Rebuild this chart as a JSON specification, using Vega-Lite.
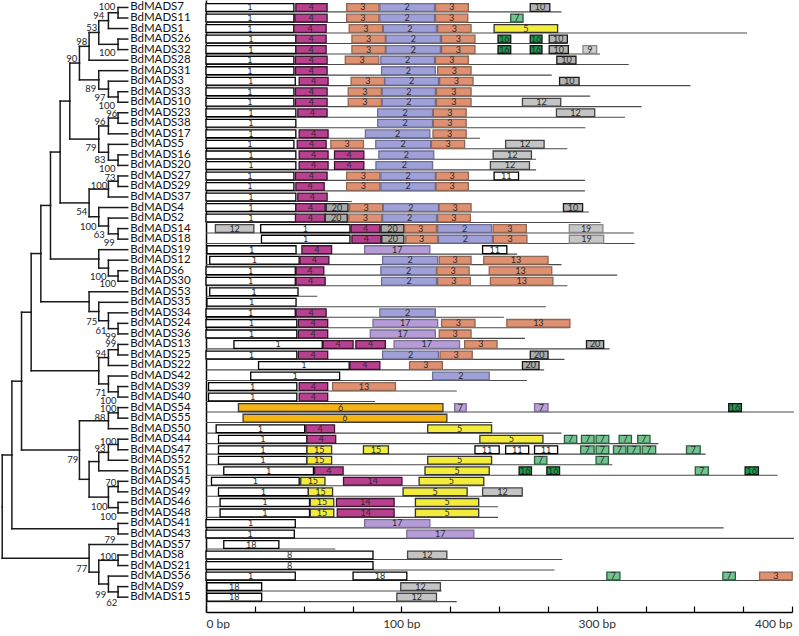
{
"$schema":"https://vega.github.io/schema/vega-lite/v6.json",
"padding":0,"spacing":0,"bounds":"flush","background":"white",
"config":{"view":{"stroke":null},"font":"Lato"},
"datasets":{
"edges":[
{"n":"BdMADS7","h":0,"r":0,"ph":1,"pr":0.5},{"n":"BdMADS11","h":0,"r":1,"ph":1,"pr":0.5},{"n":"BdMADS1","h":0,"r":2,"ph":2,"pr":1.25},{"n":"BdMADS26","h":0,"r":3,"ph":1,"pr":3.5},{"n":"BdMADS32","h":0,"r":4,"ph":1,"pr":3.5},
{"n":"BdMADS28","h":0,"r":5,"ph":4,"pr":3.69},{"n":"BdMADS31","h":0,"r":6,"ph":3,"pr":6.875},{"n":"BdMADS3","h":0,"r":7,"ph":2,"pr":7.75},{"n":"BdMADS33","h":0,"r":8,"ph":1,"pr":8.5},{"n":"BdMADS10","h":0,"r":9,"ph":1,"pr":8.5},
{"n":"BdMADS23","h":0,"r":10,"ph":1,"pr":10.5},{"n":"BdMADS38","h":0,"r":11,"ph":1,"pr":10.5},{"n":"BdMADS17","h":0,"r":12,"ph":2,"pr":11.25},{"n":"BdMADS5","h":0,"r":13,"ph":2,"pr":13.75},{"n":"BdMADS16","h":0,"r":14,"ph":1,"pr":14.5},
{"n":"BdMADS20","h":0,"r":15,"ph":1,"pr":14.5},{"n":"BdMADS27","h":0,"r":16,"ph":1,"pr":16.5},{"n":"BdMADS29","h":0,"r":17,"ph":1,"pr":16.5},{"n":"BdMADS37","h":0,"r":18,"ph":2,"pr":17.25},{"n":"BdMADS4","h":0,"r":19,"ph":3,"pr":19.875},
{"n":"BdMADS2","h":0,"r":20,"ph":2,"pr":20.75},{"n":"BdMADS14","h":0,"r":21,"ph":1,"pr":21.5},{"n":"BdMADS18","h":0,"r":22,"ph":1,"pr":21.5},{"n":"BdMADS19","h":0,"r":23,"ph":3,"pr":23.875},{"n":"BdMADS12","h":0,"r":24,"ph":2,"pr":24.75},
{"n":"BdMADS6","h":0,"r":25,"ph":1,"pr":25.5},{"n":"BdMADS30","h":0,"r":26,"ph":1,"pr":25.5},{"n":"BdMADS53","h":0,"r":27,"ph":4,"pr":27.94},{"n":"BdMADS35","h":0,"r":28,"ph":3,"pr":28.875},{"n":"BdMADS34","h":0,"r":29,"ph":2,"pr":29.75},
{"n":"BdMADS24","h":0,"r":30,"ph":1,"pr":30.5},{"n":"BdMADS36","h":0,"r":31,"ph":1,"pr":30.5},{"n":"BdMADS13","h":0,"r":32,"ph":1,"pr":32.5},{"n":"BdMADS25","h":0,"r":33,"ph":1,"pr":32.5},{"n":"BdMADS22","h":0,"r":34,"ph":2,"pr":33.25},
{"n":"BdMADS42","h":0,"r":35,"ph":2,"pr":35.75},{"n":"BdMADS39","h":0,"r":36,"ph":1,"pr":36.5},{"n":"BdMADS40","h":0,"r":37,"ph":1,"pr":36.5},{"n":"BdMADS54","h":0,"r":38,"ph":1,"pr":38.5},{"n":"BdMADS55","h":0,"r":39,"ph":1,"pr":38.5},
{"n":"BdMADS50","h":0,"r":40,"ph":2,"pr":39.25},{"n":"BdMADS44","h":0,"r":41,"ph":1,"pr":41.5},{"n":"BdMADS47","h":0,"r":42,"ph":1,"pr":41.5},{"n":"BdMADS52","h":0,"r":43,"ph":2,"pr":42.25},{"n":"BdMADS51","h":0,"r":44,"ph":3,"pr":43.125},
{"n":"BdMADS45","h":0,"r":45,"ph":1,"pr":45.5},{"n":"BdMADS49","h":0,"r":46,"ph":1,"pr":45.5},{"n":"BdMADS46","h":0,"r":47,"ph":1,"pr":47.5},{"n":"BdMADS48","h":0,"r":48,"ph":1,"pr":47.5},{"n":"BdMADS41","h":0,"r":49,"ph":1,"pr":49.5},
{"n":"BdMADS43","h":0,"r":50,"ph":1,"pr":49.5},{"n":"BdMADS57","h":0,"r":51,"ph":4,"pr":52.31},{"n":"BdMADS8","h":0,"r":52,"ph":1,"pr":52.5},{"n":"BdMADS21","h":0,"r":53,"ph":1,"pr":52.5},{"n":"BdMADS56","h":0,"r":54,"ph":2,"pr":54.75},
{"n":"BdMADS9","h":0,"r":55,"ph":1,"pr":55.5},{"n":"BdMADS15","h":0,"r":56,"ph":1,"pr":55.5},
{"h":1,"r":0.5,"ph":2,"pr":1.25},{"h":2,"r":1.25,"ph":3,"pr":2.375},{"h":1,"r":3.5,"ph":3,"pr":2.375},{"h":3,"r":2.375,"ph":4,"pr":3.69},{"h":4,"r":3.69,"ph":5,"pr":5.28},
{"h":1,"r":8.5,"ph":2,"pr":7.75},{"h":2,"r":7.75,"ph":3,"pr":6.875},{"h":3,"r":6.875,"ph":5,"pr":5.28},{"h":5,"r":5.28,"ph":6,"pr":8.89},
{"h":1,"r":10.5,"ph":2,"pr":11.25},{"h":2,"r":11.25,"ph":3,"pr":12.5},{"h":1,"r":14.5,"ph":2,"pr":13.75},{"h":2,"r":13.75,"ph":3,"pr":12.5},{"h":3,"r":12.5,"ph":6,"pr":8.89},{"h":6,"r":8.89,"ph":7,"pr":13.73},
{"h":1,"r":16.5,"ph":2,"pr":17.25},{"h":2,"r":17.25,"ph":4,"pr":18.56},{"h":1,"r":21.5,"ph":2,"pr":20.75},{"h":2,"r":20.75,"ph":3,"pr":19.875},{"h":3,"r":19.875,"ph":4,"pr":18.56},{"h":4,"r":18.56,"ph":7,"pr":13.73},{"h":7,"r":13.73,"ph":8,"pr":18.8},
{"h":1,"r":25.5,"ph":2,"pr":24.75},{"h":2,"r":24.75,"ph":3,"pr":23.875},{"h":3,"r":23.875,"ph":8,"pr":18.8},{"h":8,"r":18.8,"ph":9,"pr":23.37},
{"h":1,"r":30.5,"ph":2,"pr":29.75},{"h":2,"r":29.75,"ph":3,"pr":28.875},{"h":3,"r":28.875,"ph":4,"pr":27.94},{"h":4,"r":27.94,"ph":9,"pr":23.37},{"h":9,"r":23.37,"ph":10,"pr":28.94},
{"h":1,"r":32.5,"ph":2,"pr":33.25},{"h":2,"r":33.25,"ph":3,"pr":34.5},{"h":1,"r":36.5,"ph":2,"pr":35.75},{"h":2,"r":35.75,"ph":3,"pr":34.5},{"h":3,"r":34.5,"ph":10,"pr":28.94},{"h":10,"r":28.94,"ph":11,"pr":35.49},
{"h":1,"r":38.5,"ph":2,"pr":39.25},{"h":2,"r":39.25,"ph":5,"pr":42.03},{"h":1,"r":41.5,"ph":2,"pr":42.25},{"h":2,"r":42.25,"ph":3,"pr":43.125},{"h":3,"r":43.125,"ph":4,"pr":44.81},
{"h":1,"r":45.5,"ph":2,"pr":46.5},{"h":1,"r":47.5,"ph":2,"pr":46.5},{"h":2,"r":46.5,"ph":4,"pr":44.81},{"h":4,"r":44.81,"ph":5,"pr":42.03},{"h":5,"r":42.03,"ph":11,"pr":35.49},{"h":11,"r":35.49,"ph":12,"pr":42.5},
{"h":1,"r":49.5,"ph":12,"pr":42.5},{"h":12,"r":42.5,"ph":13,"pr":47.41},
{"h":1,"r":52.5,"ph":3,"pr":53.625},{"h":1,"r":55.5,"ph":2,"pr":54.75},{"h":2,"r":54.75,"ph":3,"pr":53.625},{"h":3,"r":53.625,"ph":4,"pr":52.31},{"h":4,"r":52.31,"ph":13,"pr":47.41}
],
"boot":[
{"h":2.15,"r":-0.08,"t":"100"},{"h":3.0,"r":0.81,"t":"94"},{"h":3.73,"r":1.98,"t":"53"},{"h":4.77,"r":3.25,"t":"98"},{"h":2.11,"r":4.35,"t":"100"},{"h":5.8,"r":4.92,"t":"90"},
{"h":3.83,"r":7.77,"t":"89"},{"h":2.87,"r":8.63,"t":"97"},{"h":2.18,"r":9.35,"t":"100"},{"h":1.66,"r":10.11,"t":"96"},{"h":2.87,"r":10.84,"t":"96"},{"h":3.8,"r":13.37,"t":"79"},
{"h":2.87,"r":14.48,"t":"83"},{"h":2.11,"r":15.3,"t":"100"},{"h":1.83,"r":16.18,"t":"73"},{"h":2.97,"r":16.92,"t":"100"},{"h":4.77,"r":19.47,"t":"54"},{"h":4.08,"r":20.81,"t":"100"},
{"h":2.94,"r":21.6,"t":"63"},{"h":1.9,"r":22.4,"t":"99"},{"h":3.05,"r":25.56,"t":"100"},{"h":2.07,"r":26.29,"t":"100"},
{"h":3.73,"r":29.84,"t":"75"},{"h":2.77,"r":30.69,"t":"61"},{"h":1.76,"r":31.32,"t":"99"},{"h":1.76,"r":31.99,"t":"99"},{"h":2.8,"r":32.94,"t":"94"},{"h":2.8,"r":36.64,"t":"71"},
{"h":2.01,"r":37.34,"t":"100"},{"h":2.01,"r":38.16,"t":"100"},{"h":2.87,"r":39.01,"t":"88"},{"h":2.01,"r":41.23,"t":"100"},{"h":2.87,"r":41.96,"t":"93"},{"h":5.7,"r":42.97,"t":"79"},
{"h":1.76,"r":45.19,"t":"70"},{"h":2.94,"r":47.46,"t":"100"},{"h":2.01,"r":48.41,"t":"100"},{"h":1.83,"r":50.57,"t":"79"},{"h":2.01,"r":52.21,"t":"100"},{"h":4.77,"r":53.35,"t":"77"},
{"h":2.8,"r":55.79,"t":"99"},{"h":1.66,"r":56.52,"t":"62"}
],
"lines":[
{"r":0,"e":182},{"r":1,"e":162.5},{"r":2,"e":277},{"r":3,"e":185},{"r":4,"e":201.7},{"r":5,"e":216.4},{"r":6,"e":177},{"r":7,"e":248},{"r":8,"e":196.7},{"r":9,"e":223},
{"r":10,"e":214.5},{"r":11,"e":194.2},{"r":12,"e":140.3},{"r":13,"e":185},{"r":14,"e":169},{"r":15,"e":169},{"r":16,"e":194},{"r":17,"e":194},{"r":18,"e":74.7},{"r":19,"e":196},
{"r":20,"e":202},{"r":21,"e":219},{"r":22,"e":219.4},{"r":23,"e":159.3},{"r":24,"e":182},{"r":25,"e":210.5},{"r":26,"e":185},{"r":27,"e":57},{"r":28,"e":174},{"r":29,"e":152.5},
{"r":30,"e":186},{"r":31,"e":163.3},{"r":32,"e":206.6},{"r":33,"e":183.5},{"r":34,"e":173.1},{"r":35,"e":164.3},{"r":36,"e":128.4},{"r":37,"e":86.5},{"r":38,"e":301},{"r":39,"e":146.6},
{"r":40,"e":182},{"r":41,"e":231.6},{"r":42,"e":255.8},{"r":43,"e":208},{"r":44,"e":292.6},{"r":45,"e":142.6},{"r":46,"e":162},{"r":47,"e":149.5},{"r":48,"e":149.5},{"r":49,"e":265},
{"r":50,"e":301},{"r":51,"e":66.2},{"r":52,"e":182.4},{"r":53,"e":178.4},{"r":54,"e":300},{"r":55,"e":120.6},{"r":56,"e":128.4}
],
"motifs":[
{"r":0,"m":"1","a":0,"b":45},{"r":0,"m":"4","a":46,"b":62},{"r":0,"m":"3","a":72,"b":88.5},{"r":0,"m":"2","a":89,"b":117},{"r":0,"m":"3","a":117.5,"b":134.3},{"r":0,"m":"10","a":166,"b":176},
{"r":1,"m":"1","a":0,"b":45},{"r":1,"m":"4","a":45.5,"b":62},{"r":1,"m":"3","a":72,"b":88.5},{"r":1,"m":"2","a":89,"b":117},{"r":1,"m":"3","a":117.5,"b":134},{"r":1,"m":"7","a":156,"b":162.3},
{"r":2,"m":"1","a":0,"b":45},{"r":2,"m":"4","a":45,"b":61.5},{"r":2,"m":"3","a":73.3,"b":90.4},{"r":2,"m":"2","a":90.8,"b":118},{"r":2,"m":"3","a":118.6,"b":135.7},{"r":2,"m":"5","a":147.5,"b":180},
{"r":3,"m":"1","a":0,"b":46},{"r":3,"m":"4","a":46,"b":61.5},{"r":3,"m":"3","a":74.7,"b":91.8},{"r":3,"m":"2","a":92.2,"b":120},{"r":3,"m":"3","a":120.6,"b":137.7},{"r":3,"m":"16","a":149.5,"b":156},{"r":3,"m":"16","a":166,"b":172},{"r":3,"m":"10","a":175.7,"b":185},
{"r":4,"m":"1","a":0,"b":46},{"r":4,"m":"4","a":46,"b":61.5},{"r":4,"m":"3","a":74.7,"b":91.8},{"r":4,"m":"2","a":92.2,"b":120},{"r":4,"m":"3","a":120.6,"b":137.7},{"r":4,"m":"16","a":149.5,"b":156},{"r":4,"m":"16","a":166,"b":172},{"r":4,"m":"10","a":175.7,"b":185.5},{"r":4,"m":"9","a":193,"b":200},
{"r":5,"m":"1","a":0,"b":45},{"r":5,"m":"4","a":45.8,"b":62},{"r":5,"m":"3","a":71.3,"b":88.5},{"r":5,"m":"2","a":89.5,"b":117},{"r":5,"m":"3","a":117.5,"b":134.3},{"r":5,"m":"10","a":179.6,"b":189.4},
{"r":6,"m":"1","a":0,"b":45},{"r":6,"m":"4","a":45.8,"b":62},{"r":6,"m":"2","a":89.9,"b":117.4},{"r":6,"m":"3","a":118.6,"b":135.7},
{"r":7,"m":"1","a":0,"b":45.7},{"r":7,"m":"4","a":47.7,"b":62.5},{"r":7,"m":"3","a":74.3,"b":91.4},{"r":7,"m":"2","a":91.6,"b":119},{"r":7,"m":"3","a":119.6,"b":136.7},{"r":7,"m":"10","a":181,"b":191},
{"r":8,"m":"1","a":0,"b":45},{"r":8,"m":"4","a":45.8,"b":62},{"r":8,"m":"3","a":72.8,"b":89.8},{"r":8,"m":"2","a":90.2,"b":117.4},{"r":8,"m":"3","a":118,"b":135.7},
{"r":9,"m":"1","a":0,"b":45},{"r":9,"m":"4","a":45.8,"b":62},{"r":9,"m":"3","a":72.8,"b":89.8},{"r":9,"m":"2","a":90.2,"b":117.4},{"r":9,"m":"3","a":118,"b":135.7},{"r":9,"m":"12","a":162,"b":181.6},
{"r":10,"m":"1","a":0,"b":46},{"r":10,"m":"4","a":47,"b":62},{"r":10,"m":"2","a":87.9,"b":116},{"r":10,"m":"3","a":116.4,"b":133.2},{"r":10,"m":"12","a":179.4,"b":199},
{"r":11,"m":"1","a":0,"b":46},{"r":11,"m":"2","a":87.9,"b":116},{"r":11,"m":"3","a":116.4,"b":133.2},
{"r":12,"m":"1","a":0,"b":46},{"r":12,"m":"4","a":47.7,"b":62.5},{"r":12,"m":"2","a":81.6,"b":114.6},{"r":12,"m":"3","a":116.2,"b":133.2},
{"r":13,"m":"1","a":0,"b":45},{"r":13,"m":"4","a":46.7,"b":61.5},{"r":13,"m":"3","a":63.9,"b":80.6},{"r":13,"m":"2","a":86.9,"b":115},{"r":13,"m":"3","a":115.4,"b":132.4},{"r":13,"m":"12","a":153.4,"b":173.1},
{"r":14,"m":"1","a":0,"b":46},{"r":14,"m":"4","a":47.7,"b":62.5},{"r":14,"m":"4","a":65.8,"b":80.8},{"r":14,"m":"2","a":88.5,"b":116.6},{"r":14,"m":"12","a":147,"b":166.6},
{"r":15,"m":"1","a":0,"b":46},{"r":15,"m":"4","a":47.7,"b":62.5},{"r":15,"m":"4","a":65.8,"b":80.8},{"r":15,"m":"2","a":87,"b":116},{"r":15,"m":"12","a":145.6,"b":165.6},
{"r":16,"m":"1","a":0,"b":45},{"r":16,"m":"4","a":45.8,"b":62},{"r":16,"m":"3","a":72,"b":89},{"r":16,"m":"2","a":89.5,"b":117.4},{"r":16,"m":"3","a":117.8,"b":134.3},{"r":16,"m":"11","a":147.5,"b":160},
{"r":17,"m":"1","a":0,"b":45},{"r":17,"m":"4","a":46,"b":60.5},{"r":17,"m":"3","a":72,"b":89},{"r":17,"m":"2","a":89.5,"b":117.4},{"r":17,"m":"3","a":117.8,"b":134.3},
{"r":18,"m":"1","a":0,"b":46},{"r":18,"m":"4","a":47,"b":62},
{"r":19,"m":"1","a":0,"b":46},{"r":19,"m":"4","a":46,"b":61},{"r":19,"m":"20","a":61.5,"b":72.7},{"r":19,"m":"3","a":73.5,"b":90.4},{"r":19,"m":"2","a":90.8,"b":119},{"r":19,"m":"3","a":119.4,"b":135.7},{"r":19,"m":"10","a":183,"b":192.8},
{"r":20,"m":"1","a":0,"b":46},{"r":20,"m":"4","a":45.8,"b":61},{"r":20,"m":"20","a":61,"b":72.3},{"r":20,"m":"3","a":73.1,"b":90},{"r":20,"m":"2","a":90.4,"b":118},{"r":20,"m":"3","a":118.6,"b":135.3},
{"r":21,"m":"12","a":4.8,"b":24.5},{"r":21,"m":"1","a":28,"b":73.7},{"r":21,"m":"4","a":74.3,"b":89},{"r":21,"m":"20","a":89.6,"b":101.3},{"r":21,"m":"3","a":101.7,"b":118},{"r":21,"m":"2","a":118.6,"b":146.2},{"r":21,"m":"3","a":147,"b":164},{"r":21,"m":"19","a":186,"b":203.2},
{"r":22,"m":"1","a":28.4,"b":73.7},{"r":22,"m":"4","a":74.7,"b":89.5},{"r":22,"m":"20","a":90,"b":101.3},{"r":22,"m":"3","a":102.2,"b":118.6},{"r":22,"m":"2","a":119,"b":146.6},{"r":22,"m":"3","a":147.1,"b":164.3},{"r":22,"m":"19","a":186,"b":203.6},
{"r":23,"m":"1","a":0.5,"b":46.1},{"r":23,"m":"4","a":49.1,"b":64.3},{"r":23,"m":"17","a":81.2,"b":114.6},{"r":23,"m":"11","a":141.6,"b":154},
{"r":24,"m":"1","a":1.9,"b":47.7},{"r":24,"m":"4","a":48.1,"b":62.9},{"r":24,"m":"2","a":90.4,"b":118.6},{"r":24,"m":"3","a":119.4,"b":135.7},{"r":24,"m":"13","a":142.2,"b":175.1},
{"r":25,"m":"1","a":0,"b":45.7},{"r":25,"m":"4","a":46.1,"b":60.3},{"r":25,"m":"2","a":89.5,"b":118},{"r":25,"m":"3","a":118.2,"b":134.7},{"r":25,"m":"13","a":145,"b":177},
{"r":26,"m":"1","a":0,"b":45.7},{"r":26,"m":"4","a":46.1,"b":61},{"r":26,"m":"2","a":89.9,"b":118},{"r":26,"m":"3","a":118.6,"b":135.3},{"r":26,"m":"13","a":145.6,"b":177.6},
{"r":27,"m":"1","a":1.9,"b":47.1},
{"r":28,"m":"1","a":0.5,"b":46.1},
{"r":29,"m":"1","a":0,"b":45.7},{"r":29,"m":"4","a":46.1,"b":61.5},{"r":29,"m":"2","a":89,"b":117.4},
{"r":30,"m":"1","a":0,"b":46.5},{"r":30,"m":"4","a":47.3,"b":62.3},{"r":30,"m":"17","a":85.5,"b":118.6},{"r":30,"m":"3","a":120.6,"b":137.7},{"r":30,"m":"13","a":154,"b":186.3},
{"r":31,"m":"1","a":0,"b":46.5},{"r":31,"m":"4","a":47.3,"b":62.3},{"r":31,"m":"17","a":84.1,"b":117.4},{"r":31,"m":"3","a":119.4,"b":135.7},
{"r":32,"m":"1","a":14.3,"b":59.5},{"r":32,"m":"4","a":60,"b":75.3},{"r":32,"m":"4","a":76.7,"b":91.8},{"r":32,"m":"17","a":96.3,"b":129.8},{"r":32,"m":"3","a":132.4,"b":149},{"r":32,"m":"20","a":194.8,"b":203.6},
{"r":33,"m":"1","a":0,"b":46.5},{"r":33,"m":"4","a":47.3,"b":62.3},{"r":33,"m":"2","a":90.4,"b":119},{"r":33,"m":"3","a":119.8,"b":136.3},{"r":33,"m":"20","a":166,"b":175.1},
{"r":34,"m":"1","a":26.9,"b":73.3},{"r":34,"m":"4","a":73.7,"b":89},{"r":34,"m":"3","a":104.2,"b":121},{"r":34,"m":"20","a":162,"b":170.5},
{"r":35,"m":"1","a":22.9,"b":68.4},{"r":35,"m":"2","a":116,"b":145},
{"r":36,"m":"1","a":1.3,"b":46.5},{"r":36,"m":"4","a":47.7,"b":62.3},{"r":36,"m":"13","a":64.8,"b":97},
{"r":37,"m":"1","a":1.3,"b":46.5},{"r":37,"m":"4","a":47.7,"b":62.3},
{"r":38,"m":"6","a":16.6,"b":121.3},{"r":38,"m":"7b","a":127.3,"b":133.2},{"r":38,"m":"7b","a":168.2,"b":175.1},{"r":38,"m":"16","a":267.6,"b":274.1},
{"r":39,"m":"6","a":19,"b":123.3},
{"r":40,"m":"1","a":5.2,"b":50.5},{"r":40,"m":"4","a":51.1,"b":65.8},{"r":40,"m":"5","a":113.5,"b":146.2},
{"r":41,"m":"1","a":6.4,"b":51.7},{"r":41,"m":"4","a":51.7,"b":66.4},{"r":41,"m":"5","a":140.2,"b":172.5},{"r":41,"m":"7","a":183.5,"b":189.8},{"r":41,"m":"7","a":192.2,"b":198.7},{"r":41,"m":"7","a":199.7,"b":206.2},{"r":41,"m":"7","a":211.5,"b":217.8},{"r":41,"m":"7","a":221,"b":227.3},
{"r":42,"m":"1","a":6.4,"b":51.7},{"r":42,"m":"15","a":51.7,"b":64.3},{"r":42,"m":"15","a":80.6,"b":93.4},{"r":42,"m":"11","a":137.7,"b":150.1},{"r":42,"m":"11","a":153.4,"b":165.2},{"r":42,"m":"11","a":168.2,"b":180},{"r":42,"m":"7","a":191.8,"b":198.7},{"r":42,"m":"7","a":199.7,"b":206.2},{"r":42,"m":"7","a":208.6,"b":215},{"r":42,"m":"7","a":215.8,"b":222.3},{"r":42,"m":"7","a":223.3,"b":230.2},{"r":42,"m":"7","a":246,"b":253},
{"r":43,"m":"1","a":6.4,"b":51.7},{"r":43,"m":"15","a":51.7,"b":64.3},{"r":43,"m":"5","a":113.5,"b":146.2},{"r":43,"m":"7","a":168.2,"b":174.5},{"r":43,"m":"7","a":199.7,"b":206},
{"r":44,"m":"1","a":9.1,"b":55},{"r":44,"m":"4","a":55.6,"b":70.2},{"r":44,"m":"5","a":112.1,"b":145},{"r":44,"m":"16","a":160.3,"b":166.6},{"r":44,"m":"16","a":174.5,"b":181},{"r":44,"m":"7","a":250.5,"b":257.2},{"r":44,"m":"16","a":276,"b":282.8},
{"r":45,"m":"1","a":2.8,"b":47.7},{"r":45,"m":"15","a":48.5,"b":60.9},{"r":45,"m":"14","a":70.4,"b":100.3},{"r":45,"m":"5","a":109.1,"b":142.2},
{"r":46,"m":"1","a":6.4,"b":52.4},{"r":46,"m":"15","a":52.4,"b":64.8},{"r":46,"m":"5","a":100.9,"b":133.7},{"r":46,"m":"12","a":141.6,"b":161.9},
{"r":47,"m":"1","a":7.2,"b":53},{"r":47,"m":"15","a":53.4,"b":65.4},{"r":47,"m":"14","a":66.8,"b":96.3},{"r":47,"m":"5","a":107.2,"b":139.6},
{"r":48,"m":"1","a":7.2,"b":53},{"r":48,"m":"15","a":53.4,"b":65.4},{"r":48,"m":"14","a":67.2,"b":96.3},{"r":48,"m":"5","a":107.2,"b":139.6},
{"r":49,"m":"1","a":0,"b":45.7},{"r":49,"m":"17","a":81.2,"b":114.6},
{"r":50,"m":"1","a":0,"b":45.2},{"r":50,"m":"17","a":102.8,"b":137.1},
{"r":51,"m":"18","a":9.1,"b":37.3},
{"r":52,"m":"8","a":0,"b":85.5},{"r":52,"m":"12","a":103.2,"b":123.3},
{"r":53,"m":"8","a":0,"b":85.5},
{"r":54,"m":"1","a":0,"b":45.7},{"r":54,"m":"18","a":75.3,"b":102.8},{"r":54,"m":"7","a":205.2,"b":211.9},{"r":54,"m":"7","a":264.6,"b":271},{"r":54,"m":"3","a":283.4,"b":300.1},
{"r":55,"m":"18","a":0.5,"b":28.5},{"r":55,"m":"12","a":99.7,"b":120},
{"r":56,"m":"18","a":0.5,"b":28.5},{"r":56,"m":"12","a":97.7,"b":118}
]
},
"hconcat":[
{
"width":206,"height":612,
"layer":[
{"data":{"name":"edges"},
"mark":{"type":"rule","color":"#1a1a1a","strokeWidth":1.5,"strokeCap":"square"},
"encoding":{"x":{"field":"ph","type":"quantitative","scale":{"domain":[-8.11,13.23],"reverse":true,"nice":false,"zero":false},"axis":null},"x2":{"field":"h"},
"y":{"field":"r","type":"quantitative","scale":{"domain":[-0.71,57.41],"reverse":true,"nice":false,"zero":false},"axis":null}}},
{"data":{"name":"edges"},
"mark":{"type":"rule","color":"#1a1a1a","strokeWidth":1.5,"strokeCap":"square"},
"encoding":{"x":{"field":"ph","type":"quantitative"},"y":{"field":"pr","type":"quantitative"},"y2":{"field":"r"}}},
{"data":{"name":"edges"},
"transform":[{"filter":"isValid(datum.n)"}],
"mark":{"type":"text","align":"left","baseline":"middle","dx":2.5,"fontSize":11.5,"font":"Lato","color":"#111"},
"encoding":{"x":{"field":"h","type":"quantitative"},"y":{"field":"r","type":"quantitative"},"text":{"field":"n","type":"nominal"}}},
{"data":{"name":"boot"},
"mark":{"type":"text","align":"center","baseline":"middle","fontSize":9.5,"font":"Lato","color":"#222"},
"encoding":{"x":{"field":"h","type":"quantitative"},"y":{"field":"r","type":"quantitative"},"text":{"field":"t","type":"nominal"}}}
]
},
{
"width":586,"height":612,
"layer":[
{"data":{"name":"lines"},
"transform":[{"calculate":"datum.r + 0.42","as":"ry"},{"calculate":"0","as":"s"}],
"mark":{"type":"rule","color":"#4a4a4a","strokeWidth":1.1},
"encoding":{"x":{"field":"s","type":"quantitative","scale":{"domain":[0,300],"nice":false,"zero":false},
"axis":{"values":[0,25,50,75,100,125,150,175,200,225,250,275,300],"labelExpr":"datum.value==0?'0 bp':datum.value==100?'100 bp':datum.value==200?'300 bp':datum.value==300?'400 bp':''","labelFlush":true,"labelOverlap":false,"grid":false,"title":null,"domainColor":"#000","domainWidth":1.5,"tickColor":"#000","tickWidth":1.2,"tickSize":-6,"labelPadding":12,"labelFont":"Lato","labelFontSize":12,"labelColor":"#333"}},
"x2":{"field":"e"},
"y":{"field":"ry","type":"quantitative","scale":{"domain":[-0.71,57.41],"reverse":true,"nice":false,"zero":false},
"axis":{"domain":true,"domainColor":"#000","domainWidth":1.5,"ticks":false,"labels":false,"grid":false,"title":null}}}},
{"data":{"name":"motifs"},
"transform":[{"calculate":"datum.r - 0.37","as":"y0"},{"calculate":"datum.r + 0.37","as":"y1"}],
"mark":{"type":"rect","strokeWidth":1.3},
"encoding":{"x":{"field":"a","type":"quantitative"},"x2":{"field":"b"},"y":{"field":"y0","type":"quantitative"},"y2":{"field":"y1"},
"fill":{"field":"m","type":"nominal","legend":null,"scale":{"domain":["1","2","3","4","5","6","7","7b","8","9","10","11","12","13","14","15","16","17","18","19","20"],"range":["#ffffff","#9fa0d8","#df9070","#b8418f","#f4ec3c","#f5b416","#72c38f","#b7a3d6","#ffffff","#cfcfcf","#b3b3b3","#ffffff","#c4c4c4","#df9070","#b8418f","#f4ec3c","#1d9a4c","#b59cd6","#ffffff","#c6c6c6","#ababab"]}},
"stroke":{"field":"m","type":"nominal","legend":null,"scale":{"domain":["1","2","3","4","5","6","7","7b","8","9","10","11","12","13","14","15","16","17","18","19","20"],"range":["#000000","#6e6e95","#8e6654","#3b1430","#333333","#3a3a3a","#2c5c3c","#7a6a92","#000000","#888888","#1a1a1a","#000000","#444444","#8e6654","#3b1430","#333333","#111111","#7d6e95","#000000","#888888","#1a1a1a"]}}}},
{"data":{"name":"motifs"},
"transform":[{"calculate":"(datum.a + datum.b) / 2","as":"c"},{"calculate":"replace(datum.m, 'b', '')","as":"t"}],
"mark":{"type":"text","align":"center","baseline":"middle","fontSize":9,"font":"Lato","color":"#2a2a2a"},
"encoding":{"x":{"field":"c","type":"quantitative"},"y":{"field":"r","type":"quantitative"},"text":{"field":"t","type":"nominal"}}}
]
}
]
}
